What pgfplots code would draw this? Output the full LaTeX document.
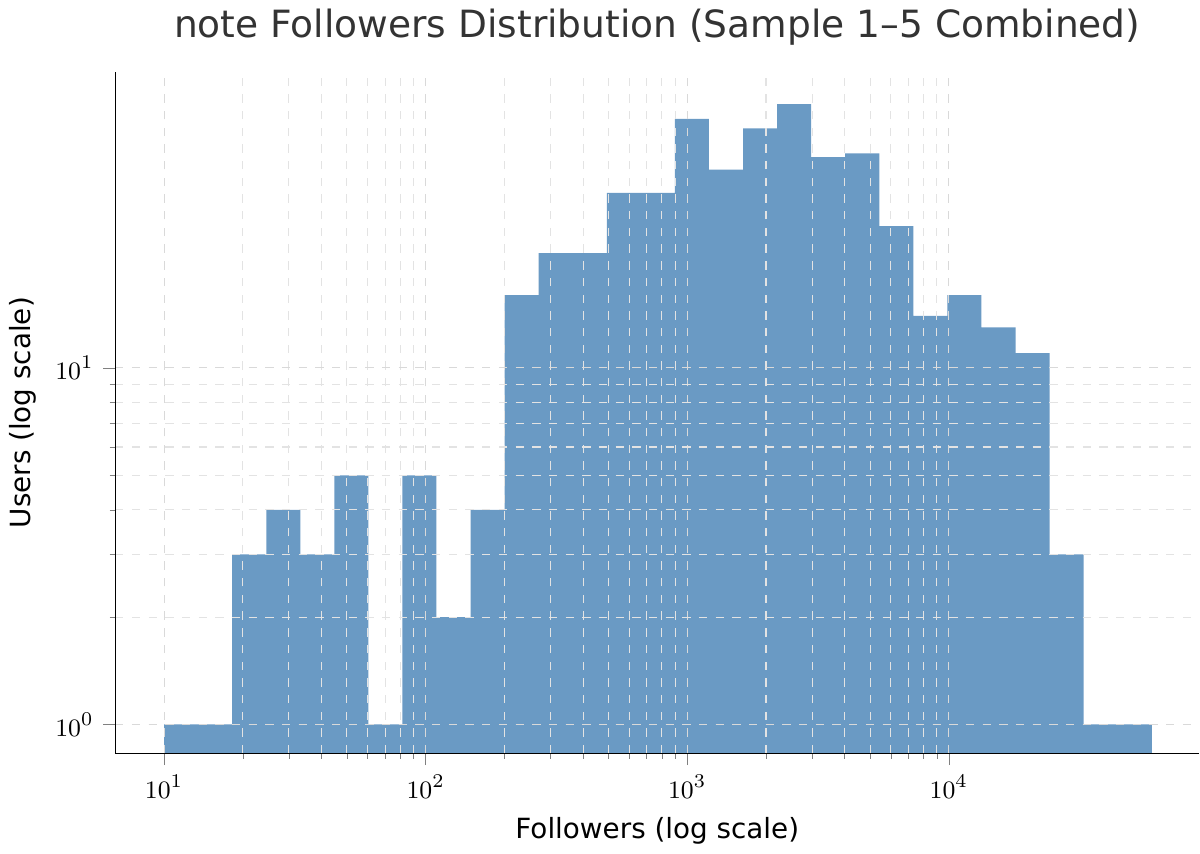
\documentclass[border=0pt]{standalone}
\usepackage{pgfplots}
\pgfplotsset{compat=1.18}
\usepackage{fontspec}
\setmainfont{DejaVu Sans}
\definecolor{bar}{HTML}{6A9AC4}
\begin{document}
\begin{tikzpicture}
\begin{axis}[
  scale only axis, width=390pt, height=245pt,
  xmode=log, ymode=log, log origin y=infty,
  xmin=6.5, xmax=90800, ymin=0.83, ymax=67.6,
  axis x line*=bottom, axis y line*=left, axis on top,
  grid=both, major grid style={dashed,white!70!gray}, minor grid style={dashed,white!78!gray},
  tick label style={font=\fontsize{9.5}{11}\selectfont},
  xlabel={Followers (log scale)}, ylabel={Users (log scale)},
  label style={font=\fontsize{10}{12}\selectfont},
  title={note Followers Distribution (Sample 1–5 Combined)},
  title style={font=\fontsize{13.5}{16}\selectfont, color=black!80},
  ytick={1,10}, yticklabels={$10^0$,$10^1$},
  xtick={10,100,1000,10000},
  xtick align=outside, ytick align=outside, minor tick length=2pt,
]
\addplot[ybar interval, fill=bar, draw=none] coordinates {
(10,1)(13.50,1)(18.22,3)(24.59,4)(33.18,3)(44.77,5)(60.42,1)(81.54,5)(110.0,2)(148.5,4)
(200.4,16)(270.5,21)(365.0,21)(492.7,31)(664.9,31)(897.4,50)(1211,36)(1634,47)(2206,55)(2977,39)
(4018,40)(5422,25)(7318,14)(9877,16)(13330,13)(17990,11)(24280,3)(32770,1)(44230,1)(59690,1)};
\end{axis}
\end{tikzpicture}
\end{document}
